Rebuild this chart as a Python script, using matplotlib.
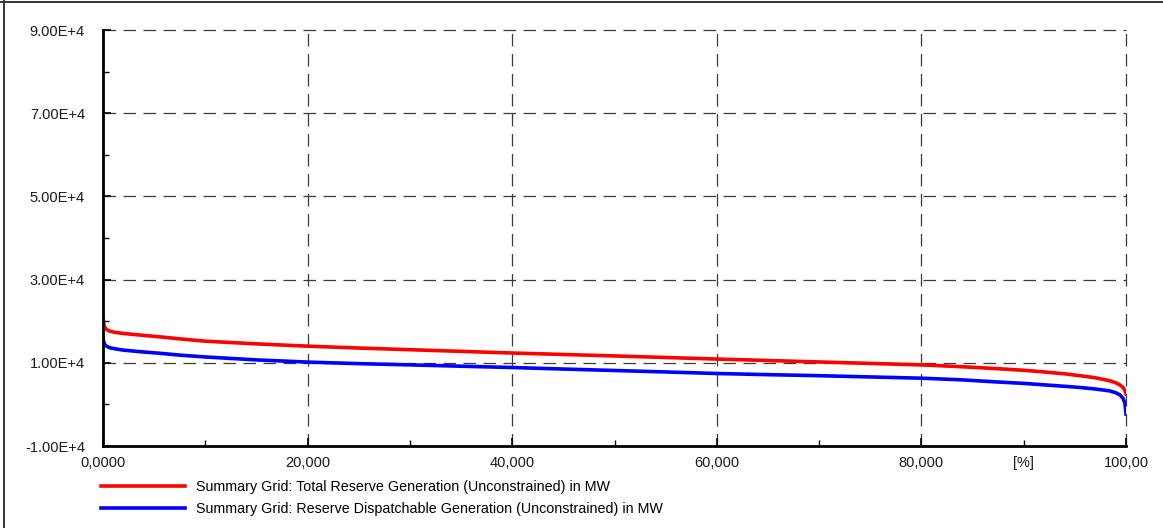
import matplotlib
matplotlib.use('Agg')
import matplotlib.pyplot as plt
from matplotlib.lines import Line2D
from matplotlib.ticker import FixedLocator, FixedFormatter

plt.rcParams['font.family'] = ['Liberation Sans', 'DejaVu Sans']

# duration curves (sorted), x in % of time
pct = [0, 0.05, 0.1, 0.2, 0.4, 0.7, 1.2, 2, 3.5, 5.5, 7.5, 10, 15, 20, 25, 30,
       35, 40, 45, 50, 55, 60, 65, 70, 75, 80, 84, 87, 90, 92, 94, 95.5, 97,
       98.4, 99, 99.4, 99.7, 99.9, 100]
total_reserve = [20600, 19800, 19000, 18400, 17900, 17600, 17300, 17050, 16700,
                 16250, 15750, 15200, 14550, 14000, 13550, 13150, 12750, 12350,
                 12000, 11650, 11280, 10900, 10550, 10200, 9850, 9500, 9050,
                 8650, 8200, 7800, 7350, 6900, 6400, 5700, 5200, 4700, 4100,
                 3300, 2500]
dispatch_reserve = [16000, 15300, 14800, 14300, 13900, 13600, 13350, 13050, 12700,
                    12300, 11850, 11400, 10700, 10170, 9800, 9500, 9180, 8870,
                    8500, 8150, 7800, 7430, 7150, 6900, 6600, 6300, 5900, 5450,
                    5050, 4700, 4350, 4070, 3700, 3250, 2800, 2300, 1500, 300,
                    -2300]

labels = ['Summary Grid: Total Reserve Generation (Unconstrained) in MW',
          'Summary Grid: Reserve Dispatchable Generation (Unconstrained) in MW']

x_major = [0, 20, 40, 60, 80, 100]
x_major_lbl = ['0,0000', '20,000', '40,000', '60,000', '80,000', '100,00']
x_minor = [10, 30, 50, 70, 90]
x_minor_lbl = ['', '', '', '', '[%]']
y_major = [-10000, 10000, 30000, 50000, 70000, 90000]
y_major_lbl = ['-1.00E+4', '1.00E+4', '3.00E+4', '5.00E+4', '7.00E+4', '9.00E+4']
y_minor = [0, 20000, 40000, 60000, 80000]

W, H = 1163, 528
fig = plt.figure(figsize=(W / 100, H / 100), dpi=100)
ax = fig.add_axes([103 / W, 1 - 446 / H, (1126 - 103) / W, (446 - 30) / H])

ax.plot(pct, total_reserve, color='#ff0000', lw=2.6, label=labels[0])
ax.plot(pct, dispatch_reserve, color='#0000ff', lw=2.6, label=labels[1])

ax.set_xlim(0, 100)
ax.set_ylim(-10000, 90000)

ax.xaxis.set_major_locator(FixedLocator(x_major))
ax.xaxis.set_major_formatter(FixedFormatter(x_major_lbl))
ax.xaxis.set_minor_locator(FixedLocator(x_minor))
ax.xaxis.set_minor_formatter(FixedFormatter(x_minor_lbl))
ax.yaxis.set_major_locator(FixedLocator(y_major))
ax.yaxis.set_major_formatter(FixedFormatter(y_major_lbl))
ax.yaxis.set_minor_locator(FixedLocator(y_minor))

for s in ['top', 'right']:
    ax.spines[s].set_visible(False)
for s in ['left', 'bottom']:
    ax.spines[s].set_linewidth(2)
    ax.spines[s].set_color('black')

ax.tick_params(axis='both', which='both', direction='in', colors='black',
               labelcolor='#1a1a1a', labelsize=10.5)
ax.tick_params(axis='both', which='major', length=6, width=1.2)
ax.tick_params(axis='both', which='minor', length=4, width=1.0)
ax.tick_params(axis='y', which='both', pad=13)
ax.tick_params(axis='x', which='both', pad=7)

ax.grid(which='major', color='#3a3a3a', lw=0.9, linestyle=(0, (10, 6)))
ax.set_axisbelow(True)
# keep the edge gridlines (100 % and 9E+4) fully visible
for gl in ax.get_xgridlines() + ax.get_ygridlines():
    gl.set_clip_on(False)

fig.legend(loc='upper left', bbox_to_anchor=(101 / W, 1 - 480 / H),
           frameon=False, fontsize=10.3, handlelength=5.9, handletextpad=0.75,
           labelspacing=0.55, borderpad=0, borderaxespad=0)

# outer frame (top and left edges)
fig.add_artist(Line2D([0, 1], [1 - 2 / H, 1 - 2 / H], transform=fig.transFigure,
                      color='#333333', lw=1.4))
fig.add_artist(Line2D([4 / W, 4 / W], [0, 1], transform=fig.transFigure,
                      color='#333333', lw=1.4))

fig.savefig('out.png', dpi=100)
